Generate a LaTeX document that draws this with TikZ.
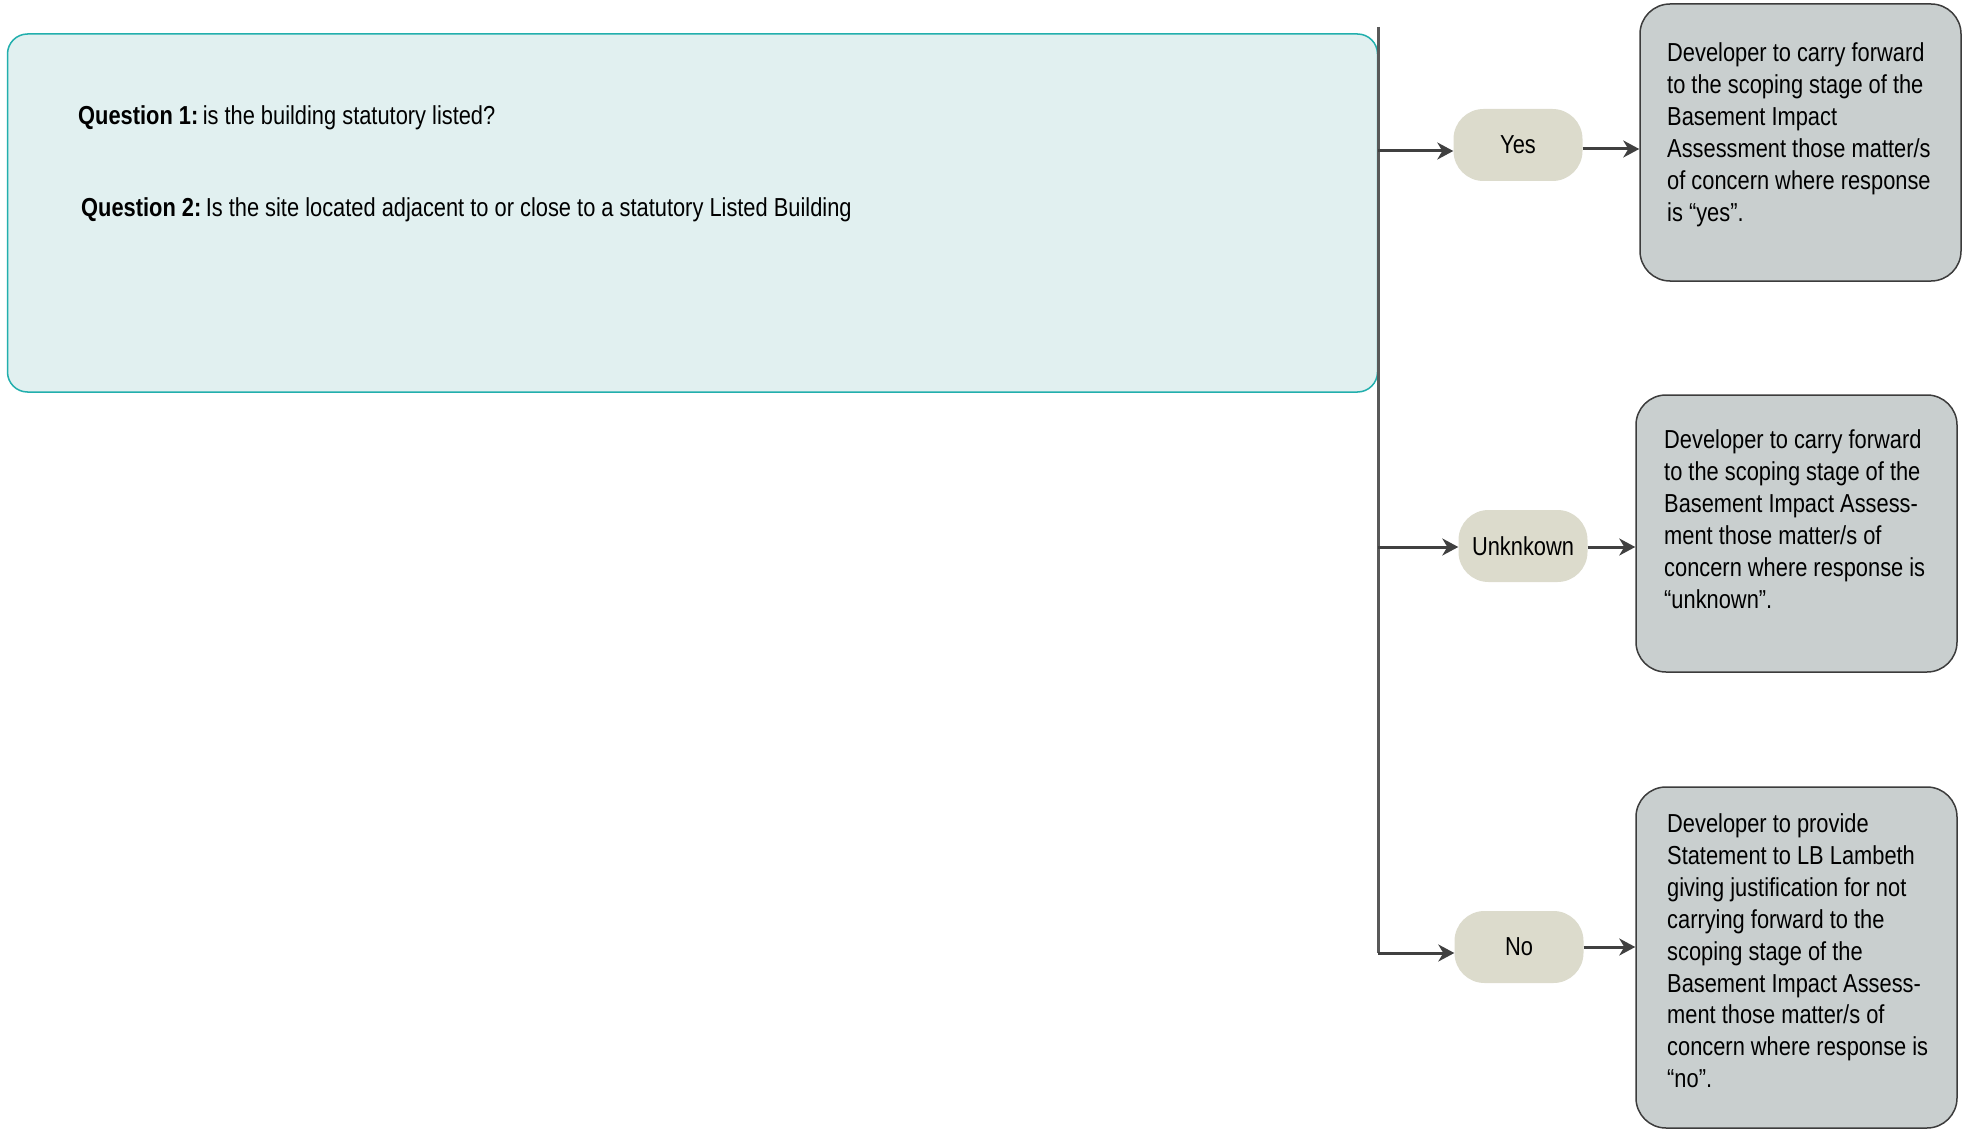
\documentclass[tikz,border=0pt]{standalone}
\usepackage{fontspec}
\setmainfont{Liberation Sans}[FakeStretch=0.84]
\usetikzlibrary{arrows.meta}
\definecolor{tealfill}{HTML}{E1F0F0}
\definecolor{tealline}{HTML}{22AFAD}
\definecolor{pillfill}{HTML}{DCDBCC}
\definecolor{boxfill}{HTML}{C9CFCF}
\definecolor{boxline}{HTML}{3C3C3C}
\definecolor{conn}{HTML}{404040}
\begin{document}
\begin{tikzpicture}[x=1pt,y=-1pt,
  qbox/.style={draw=tealline, fill=tealfill, line width=1.5pt, rounded corners=20pt,
    minimum width=1370pt, minimum height=358pt, inner sep=0pt},
  qtext/.style={anchor=base west, inner sep=0pt, font=\fontsize{26}{30}\selectfont},
  pill/.style={fill=pillfill, rounded corners=30pt, minimum width=129pt, minimum height=72pt,
    inner sep=0pt, font=\fontsize{26}{28}\selectfont},
  outbox/.style={draw=boxline, fill=boxfill, line width=1.5pt, rounded corners=30pt,
    minimum width=321pt, inner sep=0pt},
  boxtext/.style={anchor=north west, inner sep=0pt, align=left,
    font=\fontsize{26}{31.9}\selectfont},
  conn/.style={draw=conn, line width=3pt},
  arr/.style={conn, -{Stealth[length=16pt, width=17pt, inset=5pt]}}
]
\useasboundingbox (0,0) rectangle (1966,1129);

% question box
\node[qbox] (q) at (692.5,213) {};
\node[qtext] (q1) at (78,125) {\textbf{Question 1:}\hspace{0.17em}is the building statutory listed?};
\node[qtext] (q2) at (81,216) {\textbf{Question 2:}\hspace{0.17em}Is the site located adjacent to or close to a statutory Listed Building};

% decision spine
\coordinate (top) at (1378,27);
\coordinate (ya) at (1378,151);
\coordinate (ua) at (1378,547);
\coordinate (corner) at (1378,953);

% pills
\node[pill] (yes) at (1518,145) {Yes};
\node[pill] (unk) at (1523,546) {Unknkown};
\node[pill] (no) at (1519,947) {No};

% outcome boxes
\node[outbox, minimum height=277pt] (ybox) at (1800.5,142.5) {};
\node[outbox, minimum height=277pt] (ubox) at (1796.5,533.5) {};
\node[outbox, minimum height=341pt] (nbox) at (1796.5,957.5) {};

\node[boxtext] (ytext) at (1667,42.5) {Developer to carry forward\\to the scoping stage of the\\Basement Impact\\Assessment those matter/s\\of concern where response\\is “yes”.};
\node[boxtext] (utext) at (1664,429.5) {Developer to carry forward\\to the scoping stage of the\\Basement Impact Assess-\\ment those matter/s of\\concern where response is\\“unknown”.};
\node[boxtext] (ntext) at (1667,813.5) {Developer to provide\\Statement to LB Lambeth\\giving justification for not\\carrying forward to the\\scoping stage of the\\Basement Impact Assess-\\ment those matter/s of\\concern where response is\\“no”.};

% connectors
\draw[conn, draw=gray!70!black] (top) -- (corner);
\draw[arr] (ya) -- (yes.west |- ya);
\draw[arr] (ua) -- (unk.west |- ua);
\draw[arr] (corner) -- (no.west |- corner);
\draw[arr] ([yshift=-4pt]yes.east) -- ([yshift=-4pt]yes.east -| ybox.west);
\draw[arr] ([yshift=-1pt]unk.east) -- ([yshift=-1pt]unk.east -| ubox.west);
\draw[arr] (no.east) -- (no.east -| nbox.west);
\end{tikzpicture}
\end{document}
